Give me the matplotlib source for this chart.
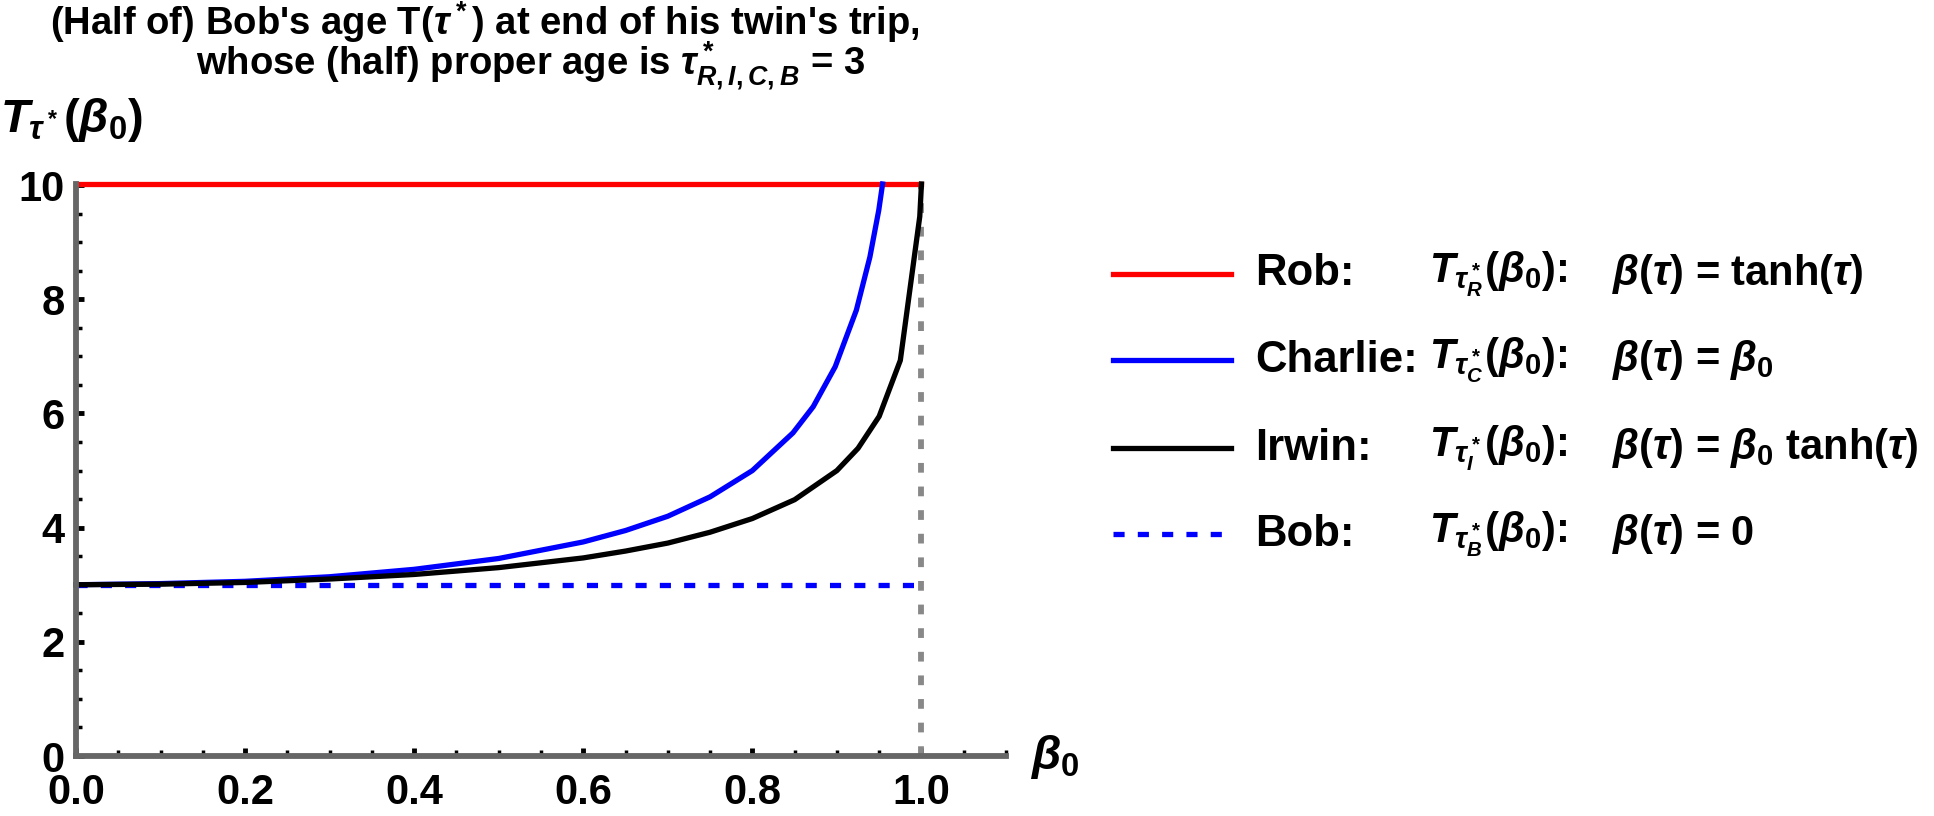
import matplotlib
matplotlib.use('Agg')
import matplotlib.pyplot as plt
from matplotlib import font_manager
from matplotlib.lines import Line2D
from matplotlib.ticker import MultipleLocator, FormatStrFormatter

# Data -----------------------------------------------------------
beta_rob = [0.0, 1.0]
T_rob = [10.02, 10.02]

beta_charlie = [0.0, 0.1, 0.2, 0.3, 0.4, 0.5, 0.6, 0.65, 0.7, 0.75, 0.8,
                0.848, 0.872, 0.898, 0.923, 0.939, 0.9495, 0.954]
T_charlie = [3.00, 3.02, 3.06, 3.14, 3.27, 3.46, 3.75, 3.95, 4.20, 4.54, 5.00,
             5.66, 6.12, 6.82, 7.81, 8.74, 9.56, 10.02]

beta_irwin = [0.0, 0.1, 0.2, 0.3, 0.4, 0.5, 0.6, 0.65, 0.7, 0.75, 0.8, 0.85,
              0.9, 0.925, 0.95, 0.975, 0.998, 1.0]
T_irwin = [3.00, 3.01, 3.04, 3.10, 3.18, 3.30, 3.47, 3.59, 3.73, 3.92, 4.16, 4.49,
           5.00, 5.39, 5.95, 6.93, 9.45, 10.02]

beta_bob = [0.0, 1.0]
T_bob = [3.0, 3.0]

names = ["Rob:", "Charlie:", "Irwin:", "Bob:"]
T_labels = [r"$T_{\tau^*_R}(\beta_0)$:", r"$T_{\tau^*_C}(\beta_0)$:",
            r"$T_{\tau^*_I}(\beta_0)$:", r"$T_{\tau^*_B}(\beta_0)$:"]
rule_labels = [r"$\beta(\tau)$ = tanh($\tau$)", r"$\beta(\tau)$ = $\beta_0$",
               r"$\beta(\tau)$ = $\beta_0$ tanh($\tau$)", r"$\beta(\tau)$ = 0"]

# Fonts -----------------------------------------------------------
avail = {f.name for f in font_manager.fontManager.ttflist}
base = 'Liberation Sans' if 'Liberation Sans' in avail else 'DejaVu Sans'
plt.rcParams['font.family'] = [base, 'DejaVu Sans']
plt.rcParams['font.weight'] = 'bold'
plt.rcParams['mathtext.fontset'] = 'custom'
plt.rcParams['mathtext.rm'] = base + ':bold'
plt.rcParams['mathtext.it'] = base + ':italic:bold'
plt.rcParams['mathtext.bf'] = base + ':bold'
plt.rcParams['mathtext.fallback'] = 'stixsans'
plt.rcParams['lines.scale_dashes'] = False

W, H = 1934, 816
fig = plt.figure(figsize=(W / 100, H / 100), dpi=100)
ax = fig.add_axes([76 / W, 1 - 756 / H, 930 / W, (756 - 184) / H])

lw = 3.8
ax.plot([1.0, 1.0], [0, 10.02], color='#888888', lw=4.2, dashes=(7, 10), zorder=1.8, clip_on=False)
ax.plot(beta_rob, T_rob, color='#ff0000', lw=lw, clip_on=False, zorder=3)
ax.plot(beta_bob, T_bob, color='#0000ff', lw=lw, dashes=(8, 9.5), clip_on=False, zorder=3)
ax.plot(beta_charlie, T_charlie, color='#0000ff', lw=lw, clip_on=False, zorder=4)
ax.plot(beta_irwin, T_irwin, color='black', lw=lw, clip_on=False, zorder=4)

ax.set_xlim(0, 1.1)
ax.set_ylim(0, 10.02)
for s in ['top', 'right']:
    ax.spines[s].set_visible(False)
for s in ['left', 'bottom']:
    ax.spines[s].set_color('#666666')
    ax.spines[s].set_linewidth(4.2)
    ax.spines[s].set_zorder(5)
ax.spines['bottom'].set_bounds(0, 1.1)
ax.spines['left'].set_bounds(0, 10.02)

ax.xaxis.set_major_locator(MultipleLocator(0.2))
ax.xaxis.set_minor_locator(MultipleLocator(0.05))
ax.yaxis.set_major_locator(MultipleLocator(2))
ax.yaxis.set_minor_locator(MultipleLocator(0.5))
ax.xaxis.set_major_formatter(FormatStrFormatter('%.1f'))
ax.tick_params(which='major', direction='in', length=6, width=3.5, color='black', labelsize=30)
ax.tick_params(which='minor', direction='in', length=4, width=2.5, color='black')
ax.tick_params(axis='x', which='major', pad=12)
ax.tick_params(axis='y', which='major', pad=8)
for lab in ax.get_xticklabels() + ax.get_yticklabels():
    lab.set_fontweight('bold')

# Titles and axis labels -----------------------------------------
fig.text(485 / W, 1 - 22 / H, r"(Half of) Bob's age T($\tau^*$) at end of his twin's trip,",
         ha='center', va='center', fontsize=27.5, fontweight='bold')
fig.text(530 / W, 1 - 66 / H, r"whose (half) proper age is $\tau^*_{R,I,C,B}$ = 3",
         ha='center', va='center', fontsize=27.5, fontweight='bold')
fig.text(0 / W, 1 - 120 / H, r"$T_{\tau^*}(\beta_0)$", ha='left', va='center', fontsize=34)
fig.text(1030 / W, 1 - 757 / H, r"$\beta_0$", ha='left', va='center', fontsize=34)

# Legend ----------------------------------------------------------
colors = ['#ff0000', '#0000ff', 'black', '#0000ff']
rows_y = [274, 360, 448, 534]
for i in range(4):
    y = 1 - rows_y[i] / H
    ln = Line2D([1113 / W, 1231 / W], [y, y], transform=fig.transFigure,
                color=colors[i], lw=lw)
    if i == 3:
        ln.set_dashes((8, 9.5))
    fig.add_artist(ln)
    fig.text(1255 / W, y, names[i], ha='left', va='center', fontsize=31.5, fontweight='bold')
    fig.text(1429 / W, y, T_labels[i], ha='left', va='center', fontsize=30)
    fig.text(1612 / W, y, rule_labels[i], ha='left', va='center', fontsize=30)

fig.savefig('out.png', dpi=100)
